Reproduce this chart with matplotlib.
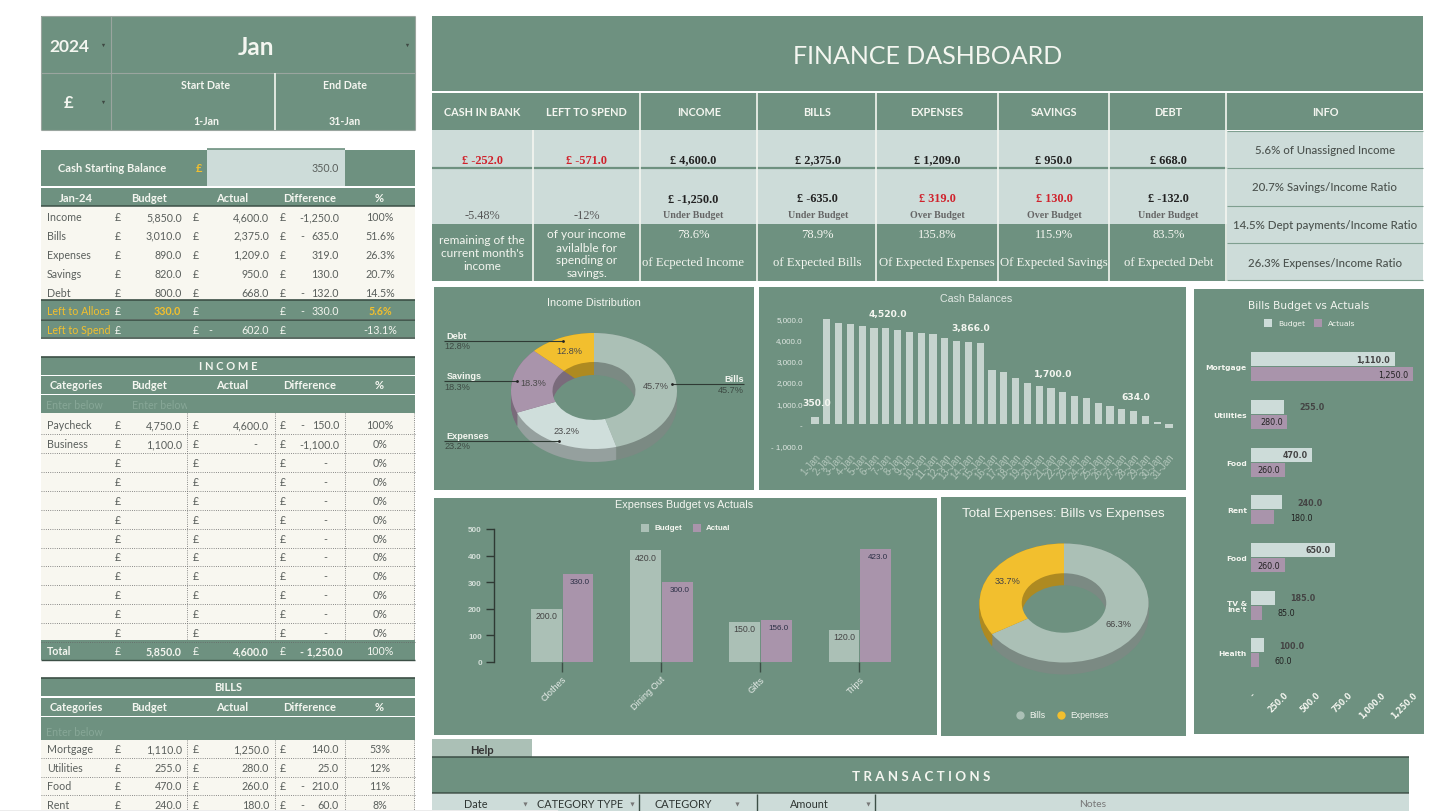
import numpy as np
import matplotlib
matplotlib.use("Agg")
import matplotlib.pyplot as plt
from matplotlib.patches import Rectangle, Circle
from matplotlib.colors import to_rgb

# summary table
summary_labels = ["Income", "Bills", "Expenses", "Savings", "Debt"]
summary_budget = [5850, 3010, 890, 820, 800]
summary_actual = [4600, 2375, 1209, 950, 668]
summary_diff = [-1250, -635, 319, 130, -132]
summary_pct = ["100%", "51.6%", "26.3%", "20.7%", "14.5%"]

# income table
income_labels = ["Paycheck", "Business"]
income_budget = [4750, 1100]
income_actual = [4600, 0]
income_diff = [-150, -1100]
income_pct = ["100%", "0%"]
income_blank_rows = 10

# bills table
bills_labels = ["Mortgage", "Utilities", "Food", "Rent"]
bills_table_budget = [1110, 255, 470, 240]
bills_table_actual = [1250, 280, 260, 180]
bills_table_diff = [140, 25, -210, -60]
bills_table_pct = ["53%", "12%", "11%", "8%"]

# KPI strip
kpi_heads = ["CASH IN BANK", "LEFT TO SPEND", "INCOME", "BILLS", "EXPENSES", "SAVINGS", "DEBT"]
kpi_values = ["£ -252.0", "£ -571.0", "£ 4,600.0", "£ 2,375.0", "£ 1,209.0", "£ 950.0", "£ 668.0"]
kpi_diffs = ["£ -1,250.0", "£ -635.0", "£ 319.0", "£ 130.0", "£ -132.0"]
kpi_status = ["Under Budget", "Under Budget", "Over Budget", "Over Budget", "Under Budget"]
kpi_pcts = ["78.6%", "78.9%", "135.8%", "115.9%", "83.5%"]
kpi_notes = ["of Ecpected Income", "of Expected Bills", "Of Expected Expenses",
             "Of Expected Savings", "of Expected Debt"]
info_lines = ["5.6% of Unassigned Income", "20.7% Savings/Income Ratio",
              "14.5% Dept payments/Income Ratio", "26.3% Expenses/Income Ratio"]

# charts
dist_labels = ["Bills", "Expenses", "Savings", "Debt"]
dist_values = [2375, 1209, 950, 668]
cash_days = [f"{d}-Jan" for d in range(1, 32)]
cash_balance = [350, 4945, 4800, 4755, 4645, 4535, 4520, 4455, 4360, 4300, 4270, 4080,
                3925, 3866, 3830, 2575, 2465, 2200, 1950, 1820, 1700, 1510, 1320, 1240,
                1020, 865, 720, 634, 420, 110, -150]
cash_labelled = [0, 6, 13, 20, 27]
cash_ticks = [-1000, 0, 1000, 2000, 3000, 4000, 5000]
exp_labels = ["Clothes", "Dining Out", "Gifts", "Trips"]
exp_budget = [200, 420, 150, 120]
exp_actual = [330, 300, 156, 423]
total_labels = ["Bills", "Expenses"]
total_values = [2375, 1209]
bill_labels = ["Mortgage", "Utilities", "Food", "Rent", "Food", "TV &\nIne't", "Health"]
bill_budget = [1110, 255, 470, 240, 650, 185, 100]
bill_actual = [1250, 280, 260, 180, 260, 85, 60]
bill_ticks = [0, 250, 500, 750, 1000, 1250]

GREEN = "#6e9180"
PALE = "#cddcd9"
CREAM = "#f8f7f0"
SAGE = "#abc0b6"
MAUVE = "#a994ab"
YELLOW = "#f2bf2e"
DARK = "#3c4f46"
TEXT = "#5a5f5c"
WHITE = "#f4f6f0"
RED = "#d0222c"
LATO = "Lato"
SERIF = "Liberation Serif"
ARIAL = "Liberation Sans"
W, H = 1445, 812

fig = plt.figure(figsize=(W / 100, H / 100), dpi=100, facecolor="white")


def layer(z):
    a = fig.add_axes([0, 0, 1, 1], zorder=z)
    a.set_xlim(0, W)
    a.set_ylim(H, 0)
    a.axis("off")
    return a


base = layer(0)
over = layer(5)


def axes_px(x0, y0, x1, y1):
    a = fig.add_axes([x0 / W, 1 - y1 / H, (x1 - x0) / W, (y1 - y0) / H], zorder=2)
    a.patch.set_alpha(0)
    return a


def rect(x0, y0, x1, y1, color, ax=base, z=1):
    ax.add_patch(Rectangle((x0, y0), x1 - x0, y1 - y0, facecolor=color, edgecolor="none", zorder=z))


def line(x0, y0, x1, y1, color=DARK, lw=1.0, ls="-", ax=base, z=3):
    ax.plot([x0, x1], [y0, y1], color=color, lw=lw, ls=ls, zorder=z, solid_capstyle="butt")


def txt(x, y, s, size=7.7, color=TEXT, ha="center", va="center", weight="normal",
        family=LATO, ax=base, clip=None):
    t = ax.text(x, y, s, fontsize=size, color=color, ha=ha, va=va, weight=weight,
                family=family, zorder=6)
    if clip is not None:
        r = Rectangle((clip[0], clip[1]), clip[2] - clip[0], clip[3] - clip[1], transform=ax.transData)
        t.set_clip_path(r)
        t.set_clip_on(True)
    return t


def arrow(x, y, color="#3f4a44", size=2.4, ax=base):
    ax.plot([x], [y], marker="v", ms=size, color=color, mew=0, zorder=6)


def money(v):
    return f"{v:,.1f}"


def diff_cell(y, v, color=TEXT, weight="normal"):
    if v == 0:
        txt(325, y, "-", ha="center", color=color)
    elif v <= -1000:
        txt(339, y, f"-{abs(v):,.1f}", ha="right", color=color, weight=weight)
    else:
        if v < 0:
            txt(302, y, "-", color=color)
        txt(339, y, money(abs(v)), ha="right", color=color, weight=weight)


def pounds(y, color=TEXT):
    for x in (118, 196, 283):
        txt(x, y, "£", color=color)


COL_HEADS = [(149, "Budget"), (232, "Actual"), (310, "Difference"), (379, "%")]


def head_row(y0, y1, first, first_x=76):
    rect(40.5, y0, 415, y1, GREEN)
    yc = (y0 + y1) / 2
    txt(first_x, yc, first, size=8, color=WHITE, weight="bold")
    for x, s in COL_HEADS:
        txt(x, yc, s, size=8, color=WHITE, weight="bold")


# top-left selector block
rect(40.5, 17, 415, 131, GREEN)
for args in [(40.5, 17, 415, 17), (40.5, 74, 415, 74), (110.5, 17, 110.5, 131), (40.5, 131, 415, 131),
             (40.5, 17, 40.5, 131), (415, 17, 415, 131)]:
    line(*args, color="#9aa59f", lw=0.8)
line(275, 74, 275, 131, color=WHITE, lw=1.2)
txt(69, 46.5, "2024", size=12.5, color=WHITE, weight="bold")
txt(256, 47.5, "Jan", size=17.5, color=WHITE, weight="bold")
txt(69, 102.5, "£", size=12, color=WHITE, weight="bold")
for x, y in [(103, 46), (407, 46), (103, 103)]:
    arrow(x, y)
txt(206, 85.5, "Start Date", size=7.7, color=WHITE, weight="bold")
txt(345, 85.5, "End Date", size=7.7, color=WHITE, weight="bold")
txt(206, 121.5, "1-Jan", size=7.7, color=WHITE, weight="bold")
txt(345, 121.5, "31-Jan", size=7.7, color=WHITE, weight="bold")

# cash starting balance
rect(40.5, 151, 415, 187, GREEN)
rect(207, 150, 345, 187, PALE)
line(207, 150, 345, 150, color=GREEN, lw=1.2)
txt(57.7, 169, "Cash Starting Balance", size=8, color=WHITE, weight="bold", ha="left")
txt(199, 169, "£", size=8, color=YELLOW, weight="bold")
txt(339, 169, "350.0", ha="right")

# summary table
head_row(189, 207, "Jan-24")
line(40.5, 207, 415, 207, lw=1.1)
rect(40.5, 207, 415, 301, CREAM)
for i, lab in enumerate(summary_labels):
    y = 217.5 + 18.9 * i
    txt(46.7, y, lab, ha="left")
    pounds(y)
    txt(182, y, money(summary_budget[i]), ha="right")
    txt(269, y, money(summary_actual[i]), ha="right")
    diff_cell(y, summary_diff[i])
    txt(380, y, summary_pct[i])

rect(40.5, 301, 415, 320, GREEN)
rect(40.5, 321, 415, 338, GREEN)
line(40.5, 301, 415, 301, lw=1.2)
line(40.5, 320.5, 415, 320.5, lw=1.2)
line(40.5, 338.5, 415, 338.5, lw=1.2)
txt(46.7, 312, "Left to Allocate", color=YELLOW, ha="left", clip=(40, 300, 110, 320))
txt(46.7, 331, "Left to Spend", color=YELLOW, ha="left", clip=(40, 320, 110, 340))
pounds(312, color=WHITE)
pounds(331, color=WHITE)
txt(181, 312, "330.0", ha="right", color=YELLOW, weight="bold")
txt(302, 312, "-", color=WHITE)
txt(339, 312, "330.0", ha="right", color=WHITE)
txt(380, 312, "5.6%", color=YELLOW, weight="bold")
txt(210, 331, "-", color=WHITE)
txt(269, 331, "602.0", ha="right", color=WHITE)
txt(380, 331, "-13.1%", color=WHITE)


def section(y_title, title, y_head, y_enter, y_rows_top, y_rows_bot, second_enter):
    line(40.5, y_title[0], 415, y_title[0], lw=1.2)
    rect(40.5, y_title[0], 415, y_title[1], GREEN)
    txt(228, sum(y_title) / 2, title, size=8, color=WHITE, weight="bold")
    head_row(y_head[0], y_head[1], "Categories")
    rect(40.5, y_enter[0], 415, y_enter[1], GREEN)
    ty = y_enter[1] - 8.5
    txt(46, ty, "Enter below", color="#87a797", ha="left")
    if second_enter:
        txt(132, ty, "Enter below", color="#87a797", ha="left", clip=(125, y_enter[0], 187, y_enter[1]))
    rect(40.5, y_rows_top, 415, y_rows_bot, CREAM)


# income table
section((357.5, 376), "I N C O M E", (377, 395), (396, 414), 414, 641, True)
for i in range(len(income_labels) + income_blank_rows):
    y = 425.7 + 18.9 * i
    pounds(y)
    if i < len(income_labels):
        txt(46.7, y, income_labels[i], ha="left")
        txt(182, y, money(income_budget[i]), ha="right")
        if income_actual[i]:
            txt(269, y, money(income_actual[i]), ha="right")
        else:
            txt(255.7, y, "-")
        diff_cell(y, income_diff[i])
        txt(380, y, income_pct[i])
    else:
        diff_cell(y, 0)
        txt(380, y, "0%")
    line(40.5, y + 9.45, 415, y + 9.45, color="#666", lw=0.6, ls=":")
for x in (187, 275, 345, 414):
    line(x, 414, x, 641, color="#666", lw=0.6, ls=":")
rect(40.5, 641, 415, 661, GREEN)
line(40.5, 661, 415, 661, lw=1.0)
txt(46.7, 652, "Total", color=WHITE, weight="bold", ha="left")
pounds(652, color=WHITE)
txt(181, 652, "5,850.0", color=WHITE, weight="bold", ha="right")
txt(268.7, 652, "4,600.0", color=WHITE, weight="bold", ha="right")
txt(342.7, 652, "- 1,250.0", color=WHITE, weight="bold", ha="right")
txt(380, 652, "100%", color=WHITE)

# bills table
section((679, 697), "BILLS", (699, 717), (718, 741), 741, 811, False)
for i, lab in enumerate(bills_labels):
    y = 750 + 18.5 * i
    txt(46.7, y, lab, ha="left")
    pounds(y)
    txt(182, y, money(bills_table_budget[i]), ha="right")
    txt(269, y, money(bills_table_actual[i]), ha="right")
    diff_cell(y, bills_table_diff[i])
    txt(380, y, bills_table_pct[i])
    line(40.5, y + 9.3, 415, y + 9.3, color="#666", lw=0.6, ls=":")
for x in (187, 275, 345, 414):
    line(x, 741, x, 811, color="#666", lw=0.6, ls=":")

# dashboard header
rect(432, 17, 1423, 92, GREEN)
txt(928, 56, "FINANCE DASHBOARD", size=18, color=WHITE)
rect(432, 94, 1423, 131, GREEN)
rect(432, 131, 1227, 225, PALE)
rect(432, 225, 1227, 282, GREEN)
line(432, 169, 1227, 169, color="#6e9180", lw=1.6)
col_edges = [640, 756.7, 876, 998, 1109, 1226]
for x in col_edges:
    line(x, 94, x, 282, color=WHITE, lw=1.2)
line(532.7, 131, 532.7, 282, color=WHITE, lw=1.2)
kpi_x = [482, 586, 699, 817, 937, 1054, 1168]
val_x = [482, 586, 693, 817.7, 937, 1054, 1168.5]
for i, h in enumerate(kpi_heads):
    txt(kpi_x[i], 112, h, size=7.8, color=WHITE, weight="bold")
    col = RED if i < 2 else "#222"
    txt(val_x[i], 160.5, kpi_values[i], size=8.8, color=col, weight="bold", family=SERIF)
txt(1325, 112, "INFO", size=7.8, color=WHITE, weight="bold")
txt(482, 216, "-5.48%", size=8.8, color="#555", family=SERIF)
txt(587, 216, "-12%", size=8.8, color="#555", family=SERIF)
for i in range(5):
    x = val_x[i + 2]
    col = RED if kpi_status[i] == "Over Budget" else "#222"
    txt(x, 199, kpi_diffs[i], size=8.8, color=col, weight="bold", family=SERIF)
    txt(x, 216, kpi_status[i], size=7.2, color="#666", weight="bold", family=SERIF)
    txt(x, 235.5, kpi_pcts[i], size=9, color=WHITE, family=SERIF)
    txt(x, 263.5, kpi_notes[i], size=9.2, color=WHITE, family=SERIF)
for y, s in zip((241, 253.7, 267), ("remaining of the", "current month's", "income")):
    txt(482, y, s, size=8.6, color=WHITE)
for y, s in zip((235, 248, 261, 274), ("of your income", "avilalble for", "spending or", "savings.")):
    txt(586.7, y, s, size=8.6, color=WHITE)
rect(1227, 131.7, 1423, 281, PALE)
for y in (131.7, 168.7, 206.7, 244.3, 281):
    line(1227, y, 1423, y, color="#7f9f90", lw=0.8)
for y, s in zip((150, 187.7, 225.7, 263.3), info_lines):
    txt(1325, y, s, size=8.3, color="#4b524e", weight="medium")

# chart panels
panels = [(434, 288.3, 754, 491), (759, 288.3, 1185.7, 491), (434, 499, 936.7, 735.7),
          (941, 498, 1186, 736.7), (1194, 289.7, 1424, 735)]
for p in panels:
    rect(*p, GREEN)


def donut3d(cx, cy, rx, ry, rin, depth, vals, cols):
    pad = 1.1
    d = depth / ry
    a = axes_px(cx - rx * pad, cy - ry * pad, cx + rx * pad, cy + ry * pad + depth)
    dark = [tuple(c * 0.72 for c in to_rgb(col)) for col in cols]
    for k in np.linspace(d, 0, 14):
        a.pie(vals, colors=dark, startangle=90, counterclock=False, center=(0, -k), radius=1,
              wedgeprops=dict(linewidth=0))
    a.add_patch(Circle((0, -d), rin, facecolor=GREEN, edgecolor="none"))
    a.pie(vals, colors=cols, startangle=90, counterclock=False, radius=1,
          wedgeprops=dict(width=1 - rin, linewidth=0))
    a.set_aspect("auto")
    a.set_xlim(-pad, pad)
    a.set_ylim(-pad - d, pad)
    a.axis("off")
    return a


# income distribution
donut3d(594, 392, 83, 58, 0.5, 13, dist_values, [SAGE, "#cfdedb", MAUVE, YELLOW])
txt(594, 303, "Income Distribution", size=7.8, color=WHITE, family=ARIAL, ax=over)
dist_share = [f"{100 * v / sum(dist_values):.1f}%" for v in dist_values]
inner_xy = [(655.7, 386.7), (566, 431.7), (533, 384), (569, 351.7)]
for (x, y), s in zip(inner_xy, dist_share):
    txt(x, y, s, size=6.6, color="#4a4a4a", family=ARIAL, ax=over)
callouts = [(744, 671.7, 385, "right"), (444, 559, 441.7, "left"), (444, 517, 382, "left"), (444, 563, 341.7, "left")]
for (x0, x1, y, ha), lab, s in zip(callouts, dist_labels, dist_share):
    line(x0, y, x1, y, color="#2f3a34", lw=0.8, ax=over)
    over.plot([x1], [y], marker="o", ms=2, color="#222", mew=0, zorder=6)
    lx = x0 if ha == "right" else x0 + 2.7
    txt(lx, y - 5.5, lab, size=6.6, color=WHITE, family=ARIAL, ha=ha, weight="bold", ax=over)
    txt(x0, y + 5.2, s, size=6.6, color="#3d4a43", family=ARIAL, ha=ha, ax=over)

# cash balances
cash_ax = axes_px(809.1, 319.3, 1174.9, 446.7)
cash_x = np.arange(len(cash_balance))
cash_ax.bar(cash_x, cash_balance, width=0.62, color="#c6d4ce")
cash_ax.set_xlim(-0.5, 30.5)
cash_ax.set_ylim(-1000, 5000)
cash_ax.set_yticks(cash_ticks)
cash_ax.set_yticklabels(["- 1,000.0", "-"] + [f"{t:,.1f}" for t in cash_ticks[2:]],
                        fontsize=5.8, color="#dfe7e2", family=ARIAL)
cash_ax.set_xticks(cash_x)
cash_ax.set_xticklabels(cash_days, rotation=50, ha="right", rotation_mode="anchor",
                        fontsize=7, color="#b3c6bb", family=ARIAL)
cash_ax.tick_params(length=0, axis="y", pad=4.6)
cash_ax.tick_params(length=0, axis="x", pad=4)
for s in cash_ax.spines.values():
    s.set_visible(False)
for i in cash_labelled:
    cash_ax.annotate(money(cash_balance[i]), (i, cash_balance[i]), xytext=(1.5, 10.5),
                     textcoords="offset points", ha="center", va="center", fontsize=6.6,
                     color=WHITE, weight="bold", family="DejaVu Sans")
txt(976, 299.3, "Cash Balances", size=7.7, color="#e2e9e5", family=ARIAL, ax=over)

# expenses budget vs actuals
exp_ax = axes_px(494.3, 530, 896.7, 662.7)
exp_x = np.arange(len(exp_labels))
bw = 0.31
exp_ax.bar(exp_x - bw, exp_budget, width=bw, align="edge", color=SAGE)
exp_ax.bar(exp_x + 0.01, exp_actual, width=bw, align="edge", color=MAUVE)
exp_ax.set_xlim(-0.679, 3.377)
exp_ax.set_ylim(0, 500)
exp_ax.set_yticks([0, 100, 200, 300, 400, 500])
exp_ax.set_xticks(exp_x)
exp_ax.set_xticklabels(exp_labels, rotation=45, ha="right", rotation_mode="anchor",
                       fontsize=6.6, color="#e6ece8", family=ARIAL)
exp_ax.tick_params(axis="y", length=6, width=1, color="#2f3a34", labelsize=5.8,
                   labelcolor="#d5dfd9", pad=3)
exp_ax.tick_params(axis="x", length=7, width=1, color="#3c4f46", pad=2)
for lab in exp_ax.get_yticklabels():
    lab.set_family(ARIAL)
    lab.set_weight("bold")
for k in ("top", "right", "bottom"):
    exp_ax.spines[k].set_visible(False)
exp_ax.spines["left"].set_color("#2f3a34")
exp_ax.spines["left"].set_linewidth(1)
for i in range(len(exp_labels)):
    exp_ax.annotate(money(exp_budget[i]), (i - 0.01, exp_budget[i]), xytext=(-2.4, -5),
                    textcoords="offset points", ha="right", va="center", fontsize=6.3,
                    color="#444", family=ARIAL)
    exp_ax.annotate(money(exp_actual[i]), (i + 0.32, exp_actual[i]), xytext=(-2.4, -5),
                    textcoords="offset points", ha="right", va="center", fontsize=5.8,
                    color="#2b2f45", family=ARIAL)
txt(684, 505, "Expenses Budget vs Actuals", size=7.8, color=WHITE, family=ARIAL, ax=over)
rect(640.7, 524.7, 648.7, 532.7, SAGE, ax=over)
rect(692.7, 524.7, 700.7, 532.7, MAUVE, ax=over)
txt(654.5, 528.7, "Budget", size=5.8, color=WHITE, weight="bold", family=ARIAL, ha="left", ax=over)
txt(706, 528.7, "Actual", size=5.8, color=WHITE, weight="bold", family=ARIAL, ha="left", ax=over)

# total expenses
donut3d(1064, 604, 84.5, 59.5, 0.5, 12, total_values, [SAGE, YELLOW])
txt(1063.7, 514, "Total Expenses: Bills vs Expenses", size=9.6, color=WHITE, family=ARIAL, ax=over)
total_share = [f"{100 * v / sum(total_values):.1f}%" for v in total_values]
txt(1118, 625, total_share[0], size=6.6, color="#444", family=ARIAL, ax=over)
txt(1008, 581.7, total_share[1], size=6.6, color="#444", family=ARIAL, ax=over)
over.plot([1019.7], [716], marker="o", ms=6, color=SAGE, mew=0, zorder=6)
over.plot([1061], [716], marker="o", ms=6, color=YELLOW, mew=0, zorder=6)
txt(1029, 716, total_labels[0], size=6.2, color=WHITE, family=ARIAL, ha="left", ax=over)
txt(1070, 716, total_labels[1], size=6.2, color=WHITE, family=ARIAL, ha="left", ax=over)

# bills budget vs actuals
bill_ax = axes_px(1251, 343.7, 1420, 680)
bill_y = np.arange(len(bill_labels))
bill_ax.barh(bill_y - 0.158, bill_budget, height=0.295, color=PALE)
bill_ax.barh(bill_y + 0.158, bill_actual, height=0.295, color=MAUVE)
bill_ax.set_xlim(0, 1307)
bill_ax.set_ylim(6.547, -0.503)
bill_ax.set_yticks(bill_y)
bill_ax.set_yticklabels(bill_labels, fontsize=5.4, color=WHITE, weight="bold", family="DejaVu Sans",
                        linespacing=1.15)
bill_ax.set_xticks(bill_ticks)
bill_ax.set_xticklabels(["-"] + [f"{t:,.1f}" for t in bill_ticks[1:]], rotation=45, ha="right",
                        rotation_mode="anchor", fontsize=5.6, color=WHITE, weight="bold",
                        family="DejaVu Sans")
bill_ax.tick_params(length=0, axis="y", pad=3)
bill_ax.tick_params(length=0, axis="x", pad=8)
for s in bill_ax.spines.values():
    s.set_visible(False)
for series, off, col, wgt in [(bill_budget, -0.158, "#444", "bold"), (bill_actual, 0.158, "#222", "normal")]:
    for i, v in enumerate(series):
        if v >= 260:
            bill_ax.annotate(money(v), (v, i + off), xytext=(-3, 0), textcoords="offset points",
                             ha="right", va="center", fontsize=5.8, color=col, weight=wgt,
                             family="DejaVu Sans")
        else:
            bill_ax.annotate(money(v), (v, i + off), xytext=(11.2, 0), textcoords="offset points",
                             ha="left", va="center", fontsize=5.8, color=col, weight=wgt,
                             family="DejaVu Sans")
txt(1309, 305.7, "Bills Budget vs Actuals", size=7.7, color=WHITE, family="DejaVu Sans", ax=over)
rect(1264, 319.7, 1272, 327.7, PALE, ax=over)
rect(1314, 319.7, 1322, 327.7, MAUVE, ax=over)
txt(1278, 323.7, "Budget", size=5.4, color=WHITE, family="DejaVu Sans", ha="left", ax=over)
txt(1327.7, 323.7, "Actuals", size=5.4, color=WHITE, family="DejaVu Sans", ha="left", ax=over)

# help tab and transactions strip
rect(432, 740, 532, 758, SAGE)
txt(482, 750.5, "Help", size=8, color="#333", weight="bold")
rect(432, 758, 1409, 794, GREEN)
line(432, 758, 1409, 758, lw=1.1)
line(432, 794, 1409, 794, lw=1.1)
txt(921, 776.7, "T R A N S A C T I O N S", size=9.6, color=WHITE, weight="bold")
rect(432, 795, 1409, 812, PALE)
for x in (639, 756.5, 875):
    line(x, 795, x, 812, lw=1.0)
for x, s in [(476, "Date"), (580, "CATEGORY TYPE"), (683, "CATEGORY"), (809, "Amount")]:
    txt(x, 805, s, size=7.8, color="#2f3633")
txt(1093, 805, "Notes", size=7.4, color="#777")
for x in (525, 631.5, 737, 868):
    arrow(x, 805, color="#777", size=3)
rect(0, 810.6, 558, 812, "#ececec", z=7)

fig.savefig("out.png", dpi=100, facecolor="white")
